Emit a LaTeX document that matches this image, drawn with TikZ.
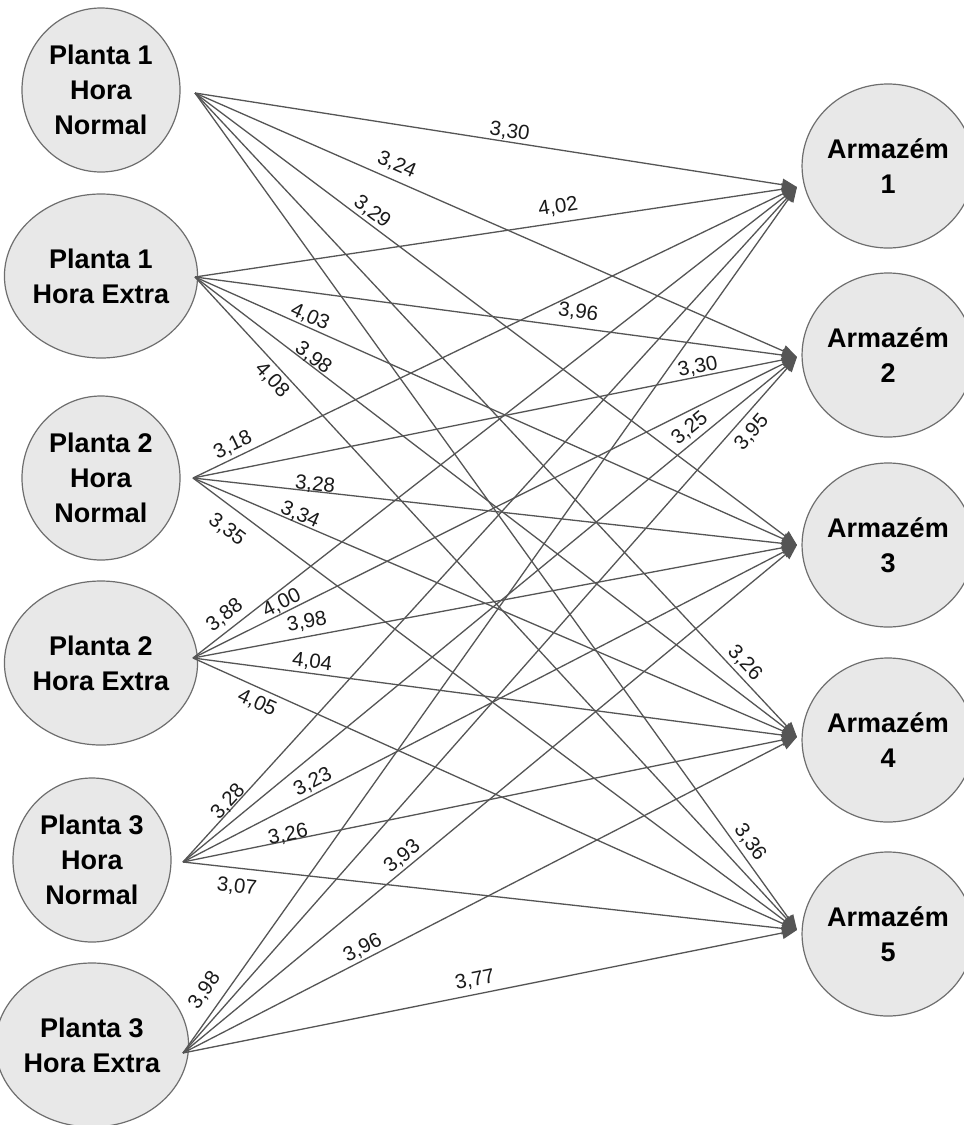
\documentclass[tikz,border=0pt]{standalone}
\usepackage{fontspec}
\setmainfont{Liberation Sans}
\usetikzlibrary{arrows.meta,shapes.geometric}
\definecolor{edgegray}{HTML}{555555}
\definecolor{nodefill}{HTML}{E8E8E8}
\definecolor{nodeline}{HTML}{6E6E6E}
\definecolor{lbltext}{HTML}{1A1A1A}
\begin{document}
\begin{tikzpicture}[x=1pt,y=-1pt,
  place/.style={ellipse, draw=nodeline, line width=1.2pt, fill=nodefill,
    minimum width=158pt, minimum height=164pt, inner sep=0pt, align=center,
    font=\fontsize{27}{35}\selectfont\bfseries},
  edge/.style={draw=edgegray, line width=1.3pt, -{Triangle[length=15pt,width=12pt]}},
  lbl/.style={sloped, anchor=center, inner sep=0pt, text=lbltext,
    font=\fontsize{20.5}{24}\selectfont}
]
\fill[white] (0,0) rectangle (964,1125);
\useasboundingbox (0,0) rectangle (964,1125);

% source nodes
\node[place] (p1n) at (101,90)   {Planta 1\\Hora\\Normal};
\node[place] (p1e) at (101,276)  {Planta 1\\Hora Extra};
\node[place] (p2n) at (101,478)  {Planta 2\\Hora\\Normal};
\node[place] (p2e) at (101,663)  {Planta 2\\Hora Extra};
\node[place] (p3n) at (92,860)   {Planta 3\\Hora\\Normal};
\node[place] (p3e) at (92,1045)  {Planta 3\\Hora Extra};

% target nodes
\node[place] (a1) at (888,166) {Armazém\\1};
\node[place] (a2) at (888,355) {Armazém\\2};
\node[place] (a3) at (888,545) {Armazém\\3};
\node[place] (a4) at (888,740) {Armazém\\4};
\node[place] (a5) at (888,934) {Armazém\\5};

% connector end points
\coordinate (s1) at (195,93);
\coordinate (s2) at (195,277);
\coordinate (s3) at (193,478);
\coordinate (s4) at (193,658);
\coordinate (s5) at (183,862);
\coordinate (s6) at (183,1053);
\coordinate (t1) at (797,187);
\coordinate (t2) at (797,357);
\coordinate (t3) at (797,545);
\coordinate (t4) at (797,737);
\coordinate (t5) at (797,930);

% Planta 1 Hora Normal
\draw[edge] (s1) -- node[lbl,pos=0.52, yshift=10.1pt] {3,30} (t1);
\draw[edge] (s1) -- node[lbl,pos=0.325,yshift=15.2pt] {3,24} (t2);
\draw[edge] (s1) -- node[lbl,pos=0.283,yshift=11.1pt] {3,29} (t3);
\draw[edge] (s1) -- node[lbl,pos=0.898,yshift=12.5pt] {3,26} (t4);
\draw[edge] (s1) -- node[lbl,pos=0.904,yshift=13.2pt] {3,36} (t5);
% Planta 1 Hora Extra
\draw[edge] (s2) -- node[lbl,pos=0.607,yshift=15.5pt] {4,02} (t1);
\draw[edge] (s2) -- node[lbl,pos=0.633,yshift=15.7pt] {3,96} (t2);
\draw[edge] (s2) -- node[lbl,pos=0.184,yshift=10.3pt] {4,03} (t3);
\draw[edge] (s2) -- node[lbl,pos=0.189,yshift=7.3pt] {3,98} (t4);
\draw[edge] (s2) -- node[lbl,pos=0.144,yshift=-13.2pt] {4,08} (t5);
% Planta 2 Hora Normal
\draw[edge] (s3) -- node[lbl,pos=0.075,yshift=12.3pt] {3,18} (t1);
\draw[edge] (s3) -- node[lbl,pos=0.839,yshift=9.6pt] {3,30} (t2);
\draw[edge] (s3) -- node[lbl,pos=0.201,yshift=6.5pt] {3,28} (t3);
\draw[edge] (s3) -- node[lbl,pos=0.172,yshift=8.2pt] {3,34} (t4);
\draw[edge] (s3) -- node[lbl,pos=0.077,yshift=-21.2pt] {3,35} (t5);
% Planta 2 Hora Extra
\draw[edge] (s4) -- node[lbl,pos=0.067,yshift=14.2pt] {3,88} (t1);
\draw[edge] (s4) -- node[lbl,pos=0.154,yshift=9.5pt] {4,00} (t2);
\draw[edge] (s4) -- node[lbl,pos=0.193,yshift=14.4pt] {3,98} (t3);
\draw[edge] (s4) -- node[lbl,pos=0.195,yshift=11.4pt] {4,04} (t4);
\draw[edge] (s4) -- node[lbl,pos=0.116,yshift=-14.7pt] {4,05} (t5);
% Planta 3 Hora Normal
\draw[edge] (s5) -- node[lbl,pos=0.082,yshift=7.1pt] {3,28} (t1);
\draw[edge] (s5) -- node[lbl,pos=0.839,yshift=13.1pt] {3,25} (t2);
\draw[edge] (s5) -- node[lbl,pos=0.22, yshift=11.5pt] {3,23} (t3);
\draw[edge] (s5) -- node[lbl,pos=0.173,yshift=5.6pt] {3,26} (t4);
\draw[edge] (s5) -- node[lbl,pos=0.091,yshift=-18.9pt] {3,07} (t5);
% Planta 3 Hora Extra
\draw[edge] (s6) -- node[lbl,pos=0.06, yshift=18.5pt] {3,98} (t1);
\draw[edge] (s6) -- node[lbl,pos=0.907,yshift=-15.8pt] {3,95} (t2);
\draw[edge] (s6) -- node[lbl,pos=0.369,yshift=11.4pt] {3,93} (t3);
\draw[edge] (s6) -- node[lbl,pos=0.301,yshift=11.0pt] {3,96} (t4);
\draw[edge] (s6) -- node[lbl,pos=0.48, yshift=14.3pt] {3,77} (t5);
\end{tikzpicture}
\end{document}
